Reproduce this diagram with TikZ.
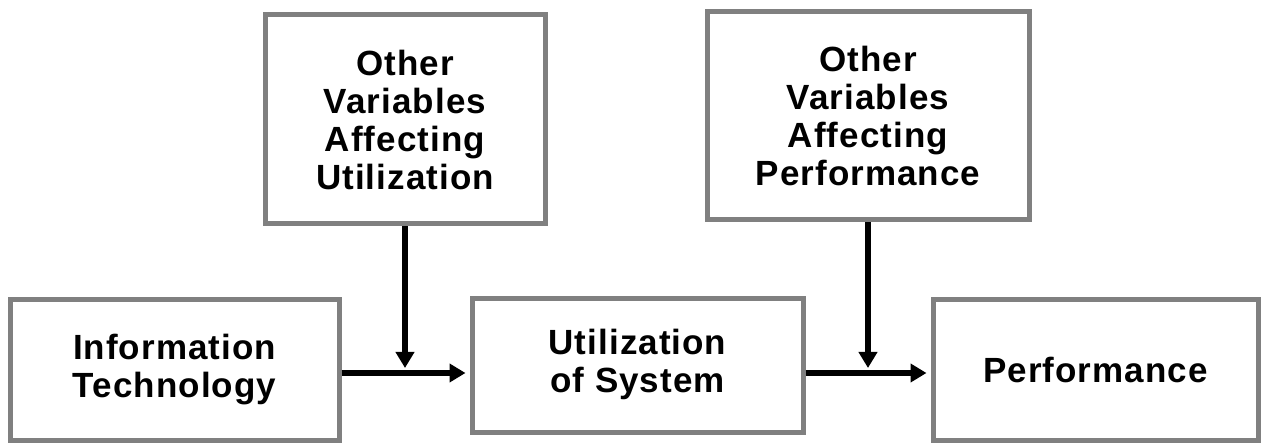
\documentclass[tikz,border=0pt]{standalone}
\usepackage{fontspec}
\setmainfont{Liberation Sans}[LetterSpace=3]
\usetikzlibrary{arrows.meta}
\begin{document}
\begin{tikzpicture}[x=1pt,y=-1pt,
  box/.style={draw=black!50, line width=5pt, fill=white, align=center,
    font=\bfseries\fontsize{35}{38}\selectfont, inner sep=0pt},
  flow/.style={line width=5.5pt, -{Triangle[length=16pt,width=18pt]}}]
\useasboundingbox (0,0) rectangle (1261,443);

% upper boxes: other variables
\node[box, minimum width=280pt, minimum height=209pt] (ovau) at (405,119.5)
  {Other\\Variables\\Affecting\\Utilization};
\node[box, minimum width=322pt, minimum height=208pt] (ovap) at (868,116)
  {Other\\Variables\\Affecting\\Performance};

% main chain
\node[box, minimum width=329pt, minimum height=140pt] (it) at (174.5,370)
  {Information\\Technology};
\node[box, minimum width=331pt, minimum height=133pt] (us) at (637.5,365.5)
  {\raisebox{9pt}{\begin{tabular}{@{}c@{}}Utilization\\of System\end{tabular}}};
\node[box, minimum width=325pt, minimum height=140pt] (perf) at (1095.5,370)
  {Performance};

% junctions where the side influences meet the chain
\coordinate (j1) at (ovau.south |- 0,373);
\coordinate (j2) at (ovap.south |- 0,373);

\draw[flow, shorten >=4pt] (it.east |- j1) -- (us.west |- j1);
\draw[flow, shorten >=4pt] (us.east |- j2) -- (perf.west |- j2);
\draw[flow, shorten >=5pt] (ovau.south) -- (j1);
\draw[flow, shorten >=5pt] (ovap.south) -- (j2);
\end{tikzpicture}
\end{document}
